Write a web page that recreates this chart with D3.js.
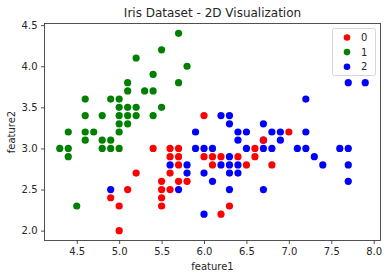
<!DOCTYPE html>
<html>
<head>
  <meta charset="utf-8">
  <title>Iris Dataset - 2D Visualization</title>
  <script src="https://d3js.org/d3.v7.min.js"></script>
  <style>
    body { margin: 0; background: #fff; }
    text { font-family: "DejaVu Sans", sans-serif; fill: #262626; }
  </style>
</head>
<body>
<svg width="386" height="278"></svg>
<script>
// cluster 0 (red)
var class0 = [
  [4.9, 2.4], [5.0, 2.3], [5.0, 2.0], [5.1, 2.5], [5.2, 2.7], [5.4, 3.0],
  [5.5, 2.6], [5.5, 2.5], [5.5, 2.4], [5.5, 2.3],
  [5.6, 3.0], [5.6, 2.9], [5.6, 2.7], [5.6, 2.5],
  [5.7, 3.0], [5.7, 2.9], [5.7, 2.8], [5.7, 2.6], [5.8, 2.6],
  [6.0, 3.4], [6.0, 2.9], [6.1, 2.9], [6.1, 2.8], [6.2, 2.9], [6.2, 2.2],
  [6.3, 2.3], [6.4, 2.9], [6.5, 2.8], [6.6, 3.0], [6.6, 2.9], [6.7, 3.1],
  [6.8, 2.8], [7.0, 3.2]
]
// cluster 1 (green)
var class1 = [
  [4.3, 3.0], [4.4, 3.2], [4.4, 3.0], [4.4, 2.9], [4.5, 2.3],
  [4.6, 3.6], [4.6, 3.4], [4.6, 3.2], [4.6, 3.1], [4.7, 3.2],
  [4.8, 3.4], [4.8, 3.1], [4.8, 3.0], [4.9, 3.6], [4.9, 3.1], [4.9, 3.0],
  [5.0, 3.6], [5.0, 3.5], [5.0, 3.4], [5.0, 3.3], [5.0, 3.2], [5.0, 3.0],
  [5.1, 3.8], [5.1, 3.7], [5.1, 3.5], [5.1, 3.4], [5.1, 3.3],
  [5.2, 4.1], [5.2, 3.5], [5.2, 3.4], [5.3, 3.7],
  [5.4, 3.9], [5.4, 3.7], [5.4, 3.4], [5.5, 4.2], [5.5, 3.5],
  [5.7, 4.4], [5.7, 3.8], [5.8, 4.0]
]
// cluster 2 (blue)
var class2 = [
  [4.9, 2.5], [5.6, 2.8], [5.7, 2.5], [5.8, 2.8], [5.8, 2.7],
  [5.9, 3.2], [5.9, 3.0], [6.0, 3.0], [6.0, 2.7], [6.0, 2.2],
  [6.1, 3.0], [6.1, 2.6], [6.2, 3.4], [6.2, 2.8],
  [6.3, 3.4], [6.3, 3.3], [6.3, 2.9], [6.3, 2.8], [6.3, 2.7], [6.3, 2.5],
  [6.4, 3.2], [6.4, 3.1], [6.4, 2.8], [6.4, 2.7], [6.5, 3.2], [6.5, 3.0],
  [6.7, 3.3], [6.7, 3.1], [6.7, 3.0], [6.7, 2.5], [6.8, 3.2], [6.8, 3.0],
  [6.9, 3.2], [6.9, 3.1], [7.1, 3.0], [7.2, 3.6], [7.2, 3.2], [7.2, 3.0],
  [7.3, 2.9], [7.4, 2.8], [7.6, 3.0],
  [7.7, 3.8], [7.7, 3.0], [7.7, 2.8], [7.7, 2.6], [7.9, 3.8]
]
var labels = ["0", "1", "2"]
var colors = ["red", "green", "blue"]
var xTicks = [4.5, 5.0, 5.5, 6.0, 6.5, 7.0, 7.5, 8.0]
var yTicks = [2.0, 2.5, 3.0, 3.5, 4.0, 4.5]

var groups = [class0, class1, class2]
var svg = d3.select("svg")
var padL = 44.5, padR = 380.5, padT = 23.5, padB = 240.5

var x = d3.scaleLinear().domain([4.12, 8.08]).range([padL, padR])
var y = d3.scaleLinear().domain([1.88, 4.52]).range([padB, padT])

svg.append("g")
  .attr("transform", "translate(0," + padB + ")")
  .call(d3.axisBottom(x).tickValues(xTicks).tickFormat(d3.format(".1f")).tickSize(3.5).tickPadding(3.5))
svg.append("g")
  .attr("transform", "translate(" + padL + ",0)")
  .call(d3.axisLeft(y).tickValues(yTicks).tickFormat(d3.format(".1f")).tickSize(3.5).tickPadding(3.5))
svg.selectAll(".domain").remove()
svg.selectAll(".tick line").attr("stroke", "#262626").attr("stroke-width", 0.8)
svg.selectAll(".tick text").attr("font-size", 10).style("fill", "#262626")

// draw order: blue, green, red on top (the shared 6.7/3.1 point shows red)
;[2, 1, 0].forEach(function (g) {
  svg.append("g").selectAll("circle")
    .data(groups[g])
    .enter().append("circle")
      .attr("cx", function (d) { return x(d[0]) })
      .attr("cy", function (d) { return y(d[1]) })
      .attr("r", 3.6)
      .attr("fill", colors[g])
})

svg.append("rect")
  .attr("x", padL).attr("y", padT)
  .attr("width", padR - padL).attr("height", padB - padT)
  .attr("fill", "none").attr("stroke", "#262626").attr("stroke-width", 0.8)

svg.append("text")
  .attr("x", (padL + padR) / 2).attr("y", 17)
  .attr("text-anchor", "middle").attr("font-size", 12)
  .text("Iris Dataset - 2D Visualization")
svg.append("text")
  .attr("x", (padL + padR) / 2).attr("y", 270)
  .attr("text-anchor", "middle").attr("font-size", 10)
  .text("feature1")
svg.append("text")
  .attr("transform", "translate(15," + ((padT + padB) / 2) + ") rotate(-90)")
  .attr("text-anchor", "middle").attr("font-size", 10)
  .text("feature2")

// legend
var legend = svg.append("g")
legend.append("rect")
  .attr("x", 332.5).attr("y", 28.5).attr("width", 43).attr("height", 47)
  .attr("rx", 2).attr("fill", "white").attr("fill-opacity", 0.8)
  .attr("stroke", "#cccccc").attr("stroke-width", 0.8)
var rows = legend.selectAll(".row").data(labels).enter().append("g")
  .attr("transform", function (d, i) { return "translate(0," + (37.5 + i * 14.6) + ")" })
rows.append("circle")
  .attr("cx", 347).attr("cy", 0).attr("r", 3.3)
  .attr("fill", function (d, i) { return colors[i] })
rows.append("text")
  .attr("x", 361).attr("y", 3.6).attr("font-size", 10)
  .text(function (d) { return d })
</script>
</body>
</html>
